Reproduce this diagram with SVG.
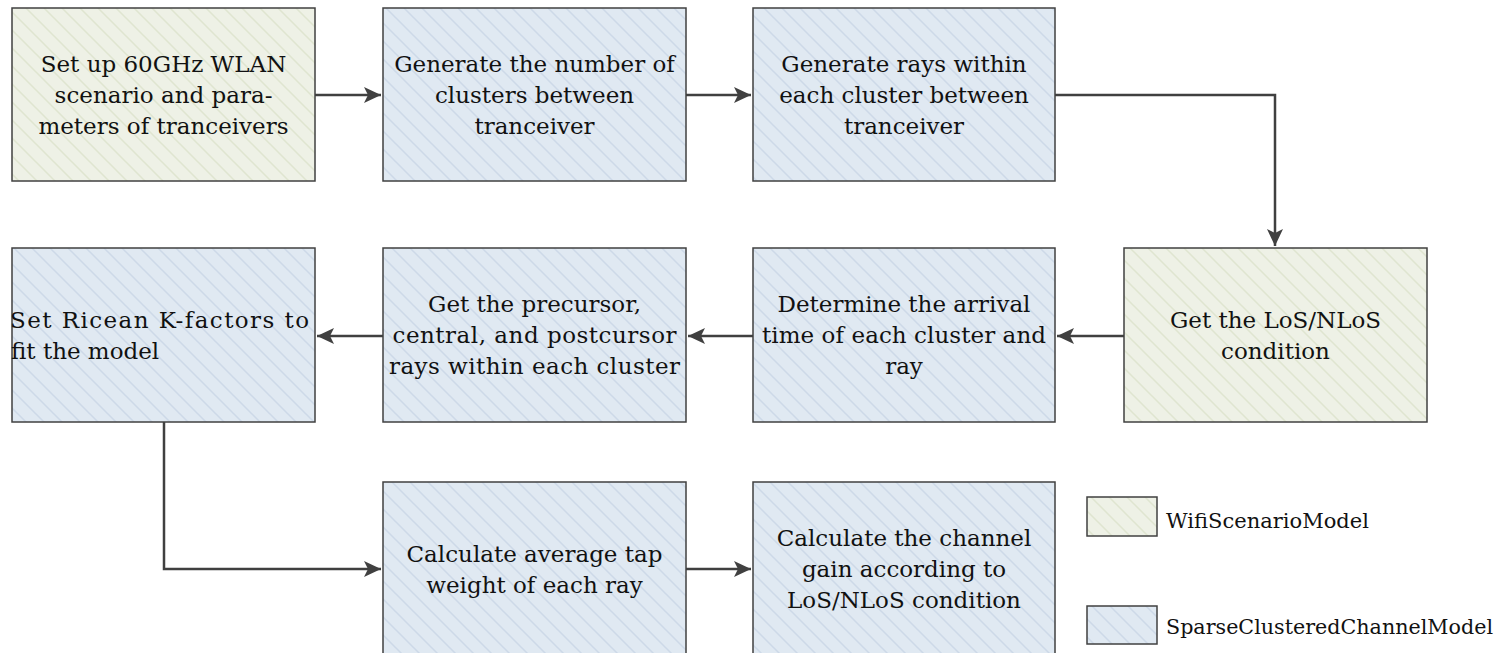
<svg xmlns="http://www.w3.org/2000/svg" width="1503" height="653" viewBox="0 0 1503 653">
<style>
.box{stroke:#404040;stroke-width:1.5}
.g{fill:url(#hatchG)}
.b{fill:url(#hatchB)}
text{font-family:"DejaVu Serif","Liberation Serif",serif;font-size:23px;fill:#111}
.c{text-anchor:middle}
.lg{font-size:21px}
.conn{fill:none;stroke:#404040;stroke-width:2.5}
</style>
<defs>
<pattern id="hatchG" patternUnits="userSpaceOnUse" width="18" height="18">
<rect width="18" height="18" fill="#eef1e6"/>
<path d="M-2,-2 L20,20 M-2,16 L2,20 M16,-2 L20,2" stroke="#dfe5d0" stroke-width="1.5"/>
</pattern>
<pattern id="hatchB" patternUnits="userSpaceOnUse" width="18" height="18">
<rect width="18" height="18" fill="#e0e9f2"/>
<path d="M-2,-2 L20,20 M-2,16 L2,20 M16,-2 L20,2" stroke="#cdd9e8" stroke-width="1.5"/>
</pattern>
<marker id="arr" markerUnits="userSpaceOnUse" markerWidth="20" markerHeight="18" viewBox="-18 -9 20 18" refX="0" refY="0" orient="auto">
<path d="M0,0 L-17,-8 L-13,0 L-17,8 Z" fill="#404040"/>
</marker>
</defs>

<g id="connectors">
<path class="conn" d="M315,95 L381,95" marker-end="url(#arr)"/>
<path class="conn" d="M686,95 L751,95" marker-end="url(#arr)"/>
<path class="conn" d="M1055,95 L1275,95 L1275,246" marker-end="url(#arr)"/>
<path class="conn" d="M1124,336 L1057,336" marker-end="url(#arr)"/>
<path class="conn" d="M753,336 L688,336" marker-end="url(#arr)"/>
<path class="conn" d="M383,336 L317,336" marker-end="url(#arr)"/>
<path class="conn" d="M164,422 L164,569 L381,569" marker-end="url(#arr)"/>
<path class="conn" d="M686,569 L751,569" marker-end="url(#arr)"/>
</g>

<g id="n1">
<rect class="box g" x="12" y="8" width="303" height="173"/>
<text class="c" x="163.5" y="71.5">Set up 60GHz WLAN</text>
<text class="c" x="163.5" y="102.5">scenario and para-</text>
<text class="c" x="163.5" y="133.5">meters of tranceivers</text>
</g>
<g id="n2">
<rect class="box b" x="383" y="8" width="303" height="173"/>
<text class="c" x="534.5" y="71.5">Generate the number of</text>
<text class="c" x="534.5" y="102.5">clusters between</text>
<text class="c" x="534.5" y="133.5">tranceiver</text>
</g>
<g id="n3">
<rect class="box b" x="753" y="8" width="302" height="173"/>
<text class="c" x="904" y="71.5">Generate rays within</text>
<text class="c" x="904" y="102.5">each cluster between</text>
<text class="c" x="904" y="133.5">tranceiver</text>
</g>
<g id="n4">
<rect class="box g" x="1124" y="248" width="303" height="174"/>
<text class="c" x="1275.5" y="328">Get the LoS/NLoS</text>
<text class="c" x="1275.5" y="359">condition</text>
</g>
<g id="n5">
<rect class="box b" x="753" y="248" width="302" height="174"/>
<text class="c" x="904" y="312">Determine the arrival</text>
<text class="c" x="904" y="343" textLength="284" lengthAdjust="spacing">time of each cluster and</text>
<text class="c" x="904" y="374">ray</text>
</g>
<g id="n6">
<rect class="box b" x="383" y="248" width="303" height="174"/>
<text class="c" x="534.5" y="312">Get the precursor,</text>
<text class="c" x="534.5" y="343" textLength="284" lengthAdjust="spacing">central, and postcursor</text>
<text class="c" x="534.5" y="374" textLength="291" lengthAdjust="spacing">rays within each cluster</text>
</g>
<g id="n7">
<rect class="box b" x="12" y="248" width="303" height="174"/>
<text x="10" y="328" textLength="299" lengthAdjust="spacing">Set Ricean K-factors to</text>
<text x="11" y="359">fit the model</text>
</g>
<g id="n8">
<rect class="box b" x="383" y="482" width="303" height="174"/>
<text class="c" x="534.5" y="561.5">Calculate average tap</text>
<text class="c" x="534.5" y="592.5">weight of each ray</text>
</g>
<g id="n9">
<rect class="box b" x="753" y="482" width="302" height="174"/>
<text class="c" x="904" y="546">Calculate the channel</text>
<text class="c" x="904" y="577">gain according to</text>
<text class="c" x="904" y="608">LoS/NLoS condition</text>
</g>

<g id="legend-wifi">
<rect class="box g" x="1087" y="497" width="70" height="39"/>
<text class="lg" x="1166" y="528" textLength="203" lengthAdjust="spacingAndGlyphs">WifiScenarioModel</text>
</g>
<g id="legend-sparse">
<rect class="box b" x="1087" y="606" width="70" height="38"/>
<text class="lg" x="1166" y="634" textLength="327" lengthAdjust="spacingAndGlyphs">SparseClusteredChannelModel</text>
</g>
</svg>
